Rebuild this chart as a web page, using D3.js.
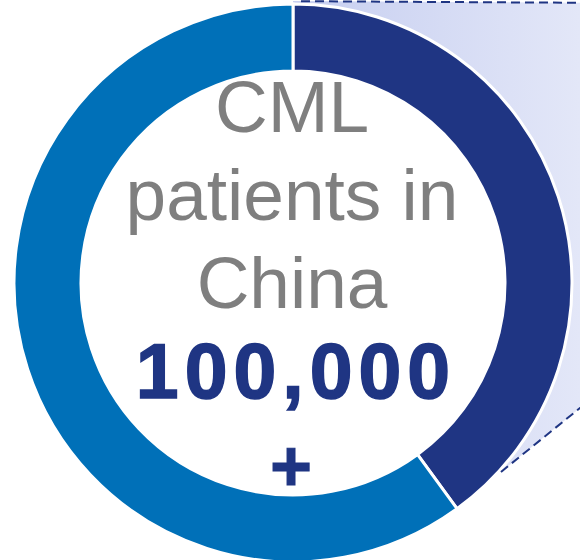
<!DOCTYPE html>
<html>
<head>
<meta charset="utf-8">
<script src="https://cdn.jsdelivr.net/npm/d3@7"></script>
<style>
  html, body { margin: 0; padding: 0; background: #ffffff; }
  svg { display: block; }
</style>
</head>
<body>
<svg id="chart" width="580" height="560"></svg>
<script>
// Share of the ring for each segment (clockwise from 12 o'clock)
const segmentNames = ["Highlighted share", "Remaining share"];
const segmentValues = [40, 60];
const segmentColors = ["#1f3583", "#0070b8"];

// Centre caption
const captionLines = ["CML", "patients in", "China"];
const headlineValue = "100,000";
const headlineSuffix = "+";

const width = 580, height = 560;
const cx = 293, cy = 283;
const outerR = 279, innerR = 212;

const svg = d3.select("#chart");

const defs = svg.append("defs");
const grad = defs.append("linearGradient")
  .attr("id", "calloutFill")
  .attr("gradientUnits", "userSpaceOnUse")
  .attr("x1", cx).attr("y1", 0).attr("x2", width).attr("y2", 0);
grad.append("stop").attr("offset", "0%").attr("stop-color", "#c6cef0");
grad.append("stop").attr("offset", "100%").attr("stop-color", "#e3e7f8");

const pie = d3.pie().sort(null).value(d => d);
const arcs = pie(segmentValues);
const arc = d3.arc().innerRadius(innerR).outerRadius(outerR);

// Callout wedge spreading from the highlighted segment to the right edge
const polar = (r, a) => [cx + r * Math.sin(a), cy - r * Math.cos(a)];
const hi = arcs[0];
const topStart = polar(outerR + 3, hi.startAngle);
const botStart = polar(outerR + 2, hi.endAngle - 0.205);
const topEnd = [width + 40, 3];
const botSlope = -0.81;
const botEnd = [width + 40, botStart[1] + botSlope * (width + 40 - botStart[0])];

svg.append("path")
  .attr("d", d3.line()([topStart, topEnd, botEnd, botStart, [cx, cy]]))
  .attr("fill", "url(#calloutFill)");

const g = svg.append("g").attr("transform", `translate(${cx},${cy})`);
// Keep the ring's hole white
g.append("circle").attr("r", innerR).attr("fill", "#ffffff");
g.selectAll("path.seg")
  .data(arcs)
  .join("path")
  .attr("class", "seg")
  .attr("d", arc)
  .attr("fill", (d, i) => segmentColors[i])
  .attr("stroke", "#ffffff")
  .attr("stroke-width", 3)
  .append("title").text((d, i) => segmentNames[i]);

// Dashed callout edges
const dash = svg.append("g")
  .attr("stroke", "#1f3583")
  .attr("stroke-width", 2)
  .attr("stroke-dasharray", "9,5")
  .attr("fill", "none");
dash.append("line")
  .attr("x1", topStart[0] + 8).attr("y1", 1.2)
  .attr("x2", topEnd[0]).attr("y2", 3);
dash.append("line")
  .attr("x1", botStart[0]).attr("y1", botStart[1])
  .attr("x2", botEnd[0]).attr("y2", botEnd[1]);

// Caption text
const cap = svg.append("g")
  .attr("text-anchor", "middle")
  .attr("font-family", "'Liberation Sans', Arial, sans-serif");
const baselines = [132, 220, 308];
cap.selectAll("text.cap")
  .data(captionLines)
  .join("text")
  .attr("class", "cap")
  .attr("x", 292)
  .attr("y", (d, i) => baselines[i])
  .attr("font-size", 73)
  .attr("fill", "#7f7f7f")
  .text(d => d);

cap.append("text")
  .attr("x", 296)
  .attr("y", 398)
  .attr("font-size", 77)
  .attr("font-weight", "bold")
  .attr("letter-spacing", 6)
  .attr("fill", "#1f3583")
  .attr("stroke", "#1f3583")
  .attr("stroke-width", 1.5)
  .text(headlineValue);

cap.append("text")
  .attr("x", 291)
  .attr("y", 491)
  .attr("font-size", 72)
  .attr("font-weight", "bold")
  .attr("fill", "#1f3583")
  .attr("stroke", "#1f3583")
  .attr("stroke-width", 1)
  .text(headlineSuffix);
</script>
</body>
</html>
